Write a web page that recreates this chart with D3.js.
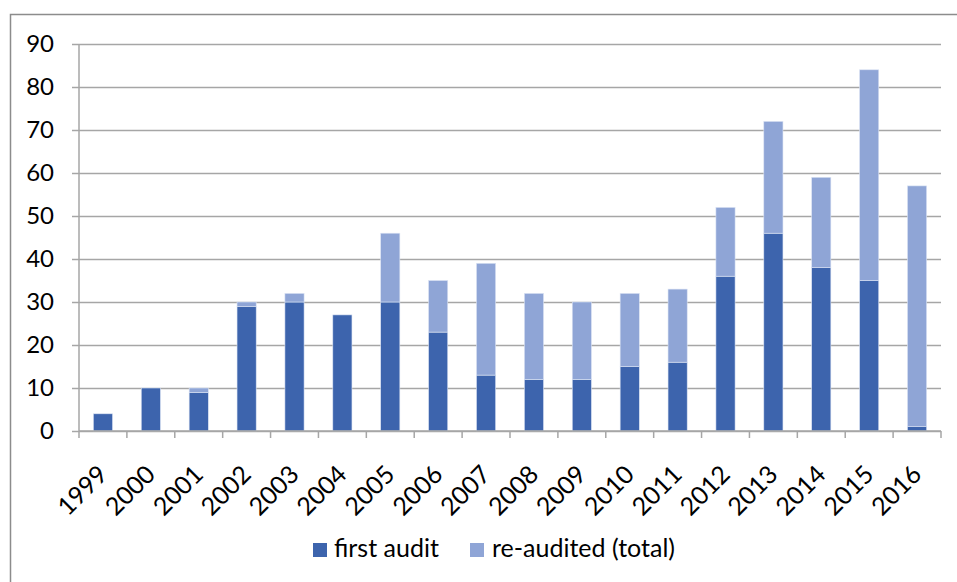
<!DOCTYPE html>
<html>
<head>
<meta charset="utf-8">
<script src="https://cdn.jsdelivr.net/npm/d3@7"></script>
<style>
  body { margin: 0; background: #fff; }
  svg text { font-family: Lato, "Open Sans", sans-serif; fill: #000; }
</style>
</head>
<body>
<svg width="957" height="582"></svg>
<script>
// data
const years = ["1999", "2000", "2001", "2002", "2003", "2004", "2005", "2006", "2007",
  "2008", "2009", "2010", "2011", "2012", "2013", "2014", "2015", "2016"];
const firstAudit = [4, 10, 9, 29, 30, 27, 30, 23, 13, 12, 12, 15, 16, 36, 46, 38, 35, 1];
const reAudited = [0, 0, 1, 1, 2, 0, 16, 12, 26, 20, 18, 17, 17, 16, 26, 21, 49, 56];
const yTicks = [0, 10, 20, 30, 40, 50, 60, 70, 80, 90];
const seriesNames = ["first audit", "re-audited (total)"];
const colors = ["#3d64ad", "#8fa5d6"];

const svg = d3.select("svg");
const plotLeft = 79, plotRight = 941, plotTop = 44, plotBottom = 431;
const fontSize = 24;

// chart border (cut off on the right and bottom)
svg.append("path")
  .attr("d", "M10.5,582 V14.5 H957")
  .attr("fill", "none")
  .attr("stroke", "#8c8c8c")
  .attr("stroke-width", 1.5);

const x = d3.scaleBand().domain(years).range([plotLeft, plotRight]).paddingInner(0.6).paddingOuter(0.3);
const y = d3.scaleLinear().domain([0, 90]).range([plotBottom, plotTop]);

// gridlines + y axis
const yAxis = d3.axisLeft(y).tickValues(yTicks).tickSize(-(plotRight - plotLeft));
const gy = svg.append("g").attr("transform", `translate(${plotLeft},0)`).call(yAxis);
gy.select(".domain").remove();
gy.selectAll(".tick line").attr("stroke", "#a6a6a6").attr("stroke-width", 1.5).attr("x1", -7);
gy.selectAll(".tick text").attr("font-size", fontSize).attr("x", -25).attr("text-anchor", "end");

// stacked bars
const rows = years.map((yr, i) => ({ year: yr, first: firstAudit[i], re: reAudited[i] }));
const stacked = d3.stack().keys(["first", "re"])(rows);

svg.append("g").selectAll("g")
  .data(stacked)
  .join("g")
  .attr("fill", (d, i) => colors[i])
  .selectAll("rect")
  .data(d => d.filter(p => p[1] > p[0]))
  .join("rect")
  .attr("x", d => x(d.data.year))
  .attr("width", x.bandwidth())
  .attr("y", d => y(d[1]))
  .attr("height", d => y(d[0]) - y(d[1]))
  .attr("stroke", "#dbe3f3")
  .attr("stroke-width", 0.6);

// y axis line
svg.append("line")
  .attr("x1", plotLeft).attr("x2", plotLeft).attr("y1", plotTop).attr("y2", plotBottom)
  .attr("stroke", "#a6a6a6").attr("stroke-width", 1.5);

// x axis with ticks between categories
const xBoundary = d3.scaleLinear().domain([0, years.length]).range([plotLeft, plotRight]);
const gx = svg.append("g").attr("transform", `translate(0,${plotBottom})`);
gx.append("line").attr("x1", plotLeft).attr("x2", plotRight)
  .attr("stroke", "#a6a6a6").attr("stroke-width", 1.5);
gx.selectAll(".tk")
  .data(d3.range(years.length + 1))
  .join("line")
  .attr("class", "tk")
  .attr("x1", d => xBoundary(d)).attr("x2", d => xBoundary(d))
  .attr("y1", 0).attr("y2", 7)
  .attr("stroke", "#a6a6a6").attr("stroke-width", 1.5);
gx.selectAll(".lbl")
  .data(years)
  .join("text")
  .attr("class", "lbl")
  .attr("transform", d => `translate(${x(d) + x.bandwidth() / 2 + 6},45) rotate(-45)`)
  .attr("text-anchor", "end")
  .attr("font-size", 25)
  .text(d => d);

// legend
const legend = svg.append("g").attr("transform", "translate(313,543)");
const items = [{ x: 0, tx: 21 }, { x: 157, tx: 179 }];
items.forEach((it, i) => {
  legend.append("rect").attr("x", it.x).attr("y", 0).attr("width", 14).attr("height", 14)
    .attr("fill", colors[i]);
  legend.append("text").attr("x", it.tx).attr("y", 14).attr("font-size", 25).text(seriesNames[i]);
});
</script>
</body>
</html>
